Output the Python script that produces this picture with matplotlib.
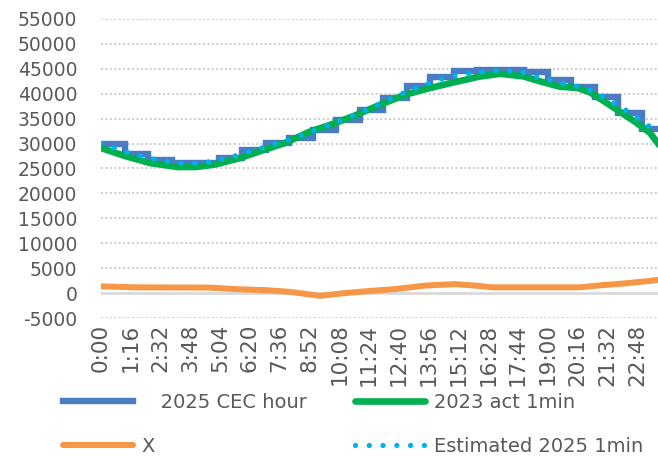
import numpy as np
import matplotlib
matplotlib.use("Agg")
import matplotlib.pyplot as plt

# category labels shown on the x axis (every 76 minutes)
time_labels = ["0:00", "1:16", "2:32", "3:48", "5:04", "6:20", "7:36", "8:52",
               "10:08", "11:24", "12:40", "13:56", "15:12", "16:28", "17:44",
               "19:00", "20:16", "21:32", "22:48"]

# 2025 CEC hour - one value per hour 0..23
cec_hour = [29900, 27900, 26700, 26100, 26100, 27100, 28700, 30100,
            31100, 32700, 34700, 36700, 39100, 41500, 43300, 44600,
            44800, 44800, 44400, 42800, 41400, 39400, 36200, 33000]

# 2023 act 1min (minute of day, MW)
act_min = [0, 66, 125, 196, 242, 291, 355, 418, 469, 533, 597, 653, 712,
           776, 832, 895, 941, 962, 1018, 1077, 1120, 1171, 1214, 1247,
           1285, 1324, 1362, 1400, 1425]
act_val = [29100, 27400, 26100, 25300, 25300, 25800, 27100, 28800, 30100,
           32400, 34100, 35800, 37800, 39800, 41000, 42200, 43000, 43400,
           44000, 43500, 42500, 41400, 41200, 40300, 38400, 36400, 34400,
           32200, 29600]

# Estimated 2025 1min
est_min = [0, 30, 66, 125, 196, 242, 291, 355, 418, 469, 533, 597, 653,
           712, 776, 832, 895, 962, 1018, 1077, 1120, 1171, 1214, 1247,
           1285, 1324, 1362, 1400, 1425]
est_val = [30000, 29300, 28300, 27000, 26100, 26000, 26500, 27800, 29300,
           30500, 32300, 34200, 35900, 38000, 40300, 42000, 43600, 44300,
           44700, 44300, 43200, 42200, 41500, 40700, 39300, 37500, 35500,
           33400, 32200]

# X
x_min = [0, 88, 278, 355, 418, 482, 559, 610, 673, 750, 827, 903, 954,
         1000, 1222, 1273, 1337, 1401, 1425]
x_val = [1350, 1150, 1100, 750, 600, 250, -550, -100, 350, 800, 1500,
         1800, 1500, 1150, 1150, 1550, 1950, 2450, 2700]

series_names = ["   2025 CEC hour", "2023 act 1min", "X", "Estimated 2025 1min"]

c_blue = "#4A7CC4"
c_green = "#00B050"
c_orange = "#F79646"
c_light = "#00B0F0"
c_text = "#595959"

plt.rcParams['font.family'] = ['DejaVu Sans']

fig = plt.figure(figsize=(6.58, 4.58), dpi=100)
ax = fig.add_axes([101 / 658, (458 - 318) / 458, 557 / 658, (318 - 19) / 458])

hours = np.arange(len(cec_hour)) * 60
hx = np.append(hours, 1440)
hy = np.append(cec_hour, cec_hour[-1])

l_blue, = ax.step(hx, hy, where='post', color=c_blue, lw=4.6,
                  solid_joinstyle='miter', label=series_names[0], zorder=3)
l_green, = ax.plot(act_min, act_val, color=c_green, lw=4.8,
                   solid_capstyle='round', label=series_names[1], zorder=4)
l_orange, = ax.plot(x_min, x_val, color=c_orange, lw=4.3,
                    solid_capstyle='round', label=series_names[2], zorder=5)
l_est, = ax.plot(est_min, est_val, color=c_light, lw=3.8,
                 linestyle=(0, (0.01, 2.6)), dash_capstyle='round',
                 label=series_names[3], zorder=6)

ax.set_xlim(0, 1421)
ax.set_ylim(-5000, 55000)

yt = np.arange(-5000, 55001, 5000)
ax.set_yticks(yt)
ax.set_yticklabels([str(v) for v in yt])
for v in yt:
    if v == 0:
        ax.axhline(v, color="#D9D9D9", lw=2.0, zorder=1)
    else:
        ax.axhline(v, color="#BFBFBF", lw=1.1, linestyle=(0, (1.3, 1.6)), zorder=1)

tick_pos = [int(s.split(":")[0]) * 60 + int(s.split(":")[1]) for s in time_labels]
ax.set_xticks(tick_pos)
ax.set_xticklabels(time_labels, rotation=90)

ax.tick_params(axis='y', length=0, pad=17, labelsize=13.5, labelcolor=c_text)
ax.tick_params(axis='x', length=0, pad=4, labelsize=15.5, labelcolor=c_text)
for s in ax.spines.values():
    s.set_visible(False)

leg_kw = dict(frameon=False, fontsize=14, handlelength=3.6, handletextpad=0.45,
              labelspacing=1.3, labelcolor=c_text, borderpad=0, borderaxespad=0)
leg1 = fig.legend([l_blue, l_orange], [series_names[0], series_names[2]],
                  loc='upper left', bbox_to_anchor=(63 / 658, 1 - 393 / 458), **leg_kw)
leg2 = fig.legend([l_green, l_est], [series_names[1], series_names[3]],
                  loc='upper left', bbox_to_anchor=(355 / 658, 1 - 393 / 458), **leg_kw)

fig.savefig("out.png", dpi=100)
